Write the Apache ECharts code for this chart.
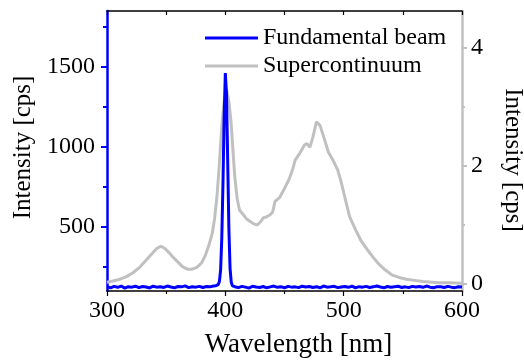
<!DOCTYPE html>
<html><head><meta charset="utf-8">
<script src="https://cdn.jsdelivr.net/npm/echarts@6/dist/echarts.min.js"></script>
<style>html,body{margin:0;padding:0;background:#fff}#c{width:524px;height:361px}</style>
</head><body><div id="c"></div>
<script>
const FONT = 'Liberation Serif';
const seriesNames = ['Fundamental beam', 'Supercontinuum'];
const xTicks = [300, 400, 500, 600];
const leftTicks = [500, 1000, 1500];
const leftMinor = [250, 750, 1250, 1750];
const rightTicks = [0, 2, 4];
const rightMinor = [1, 3];

// Supercontinuum (right axis)
const scX = [300,305,311,316,322,328,333,338,342,345.5,349,352,356,360,364,368,372,376,380,383,386,389,391,393,395,397,399,401,403,405,406.5,408,410,412,415,418,421,424,427,430,432,435,437.7,440,442,446,450,454,457,459,463,467,469,471.5,474,477,480,484,487,491,495,498,501,505,510,515,520,525,530,535,541,547,553,560,567,575,581,590,600];
const scY = [0.03,0.05,0.08,0.12,0.19,0.29,0.40,0.51,0.60,0.64,0.60,0.54,0.45,0.37,0.29,0.25,0.25,0.28,0.36,0.48,0.65,0.86,1.12,1.50,2.05,2.66,3.10,3.30,3.10,2.70,2.25,1.81,1.45,1.25,1.18,1.10,1.06,1.02,1.00,1.06,1.12,1.14,1.17,1.22,1.40,1.47,1.62,1.78,1.95,2.10,2.22,2.36,2.38,2.32,2.49,2.75,2.69,2.44,2.24,2.10,1.93,1.72,1.47,1.14,0.92,0.72,0.58,0.45,0.33,0.24,0.15,0.11,0.08,0.06,0.04,0.03,0.02,0.02,0.01];

// Fundamental beam (left axis)
const fbX = [300,303,306,309,312,315,318,321,324,327,330,333,336,339,342,345,348,351,354,357,360,363,366,369,372,375,378,381,384,387,390,392,
  394,395,396,397,398,399,400,401,402,403,404,405,406,
  408,411,414,417,420,423,426,429,432,435,438,441,444,447,450,453,456,459,462,465,468,471,474,477,480,483,486,489,492,495,498,501,504,507,510,513,516,519,522,525,528,531,534,537,540,543,546,549,552,555,558,561,564,567,570,573,576,579,582,585,588,591,594,597,600];
const fbY = [126,120,129,123,131,118,127,124,130,121,128,125,119,130,124,127,122,131,125,120,128,126,132,121,127,124,129,122,128,126,131,133,
  140,160,230,430,770,1190,1462,1330,910,490,240,155,132,
  127,121,129,124,118,130,125,122,128,120,126,131,123,127,119,129,124,126,121,130,125,128,122,127,120,131,124,126,129,121,125,128,123,130,119,127,124,129,122,126,131,125,120,128,124,127,130,122,126,121,129,125,128,123,131,124,120,127,126,122,129,124,121,127,125];

const BLUE = '#0000ff', GRAY = '#c0c0c0';
const txt = {fontFamily: FONT, fontSize: 24, color: '#000'};
const plain = v => String(v);

const chart = echarts.init(document.getElementById('c'), null, {renderer: 'canvas'});
chart.setOption({
  animation: false,
  backgroundColor: '#fff',
  grid: {left: 107, right: 62, top: 11, bottom: 70, containLabel: false, outerBoundsMode: 'none'},
  legend: {
    orient: 'vertical', left: 200, top: 21, icon: 'rect', itemWidth: 53, itemHeight: 3, itemGap: 4,
    textStyle: Object.assign({lineHeight: 24}, txt), data: seriesNames
  },
  xAxis: [
    {type: 'value', position: 'bottom', min: 300, max: 600, interval: 100,
     axisLine: {show: true, onZero: false, lineStyle: {color: '#000', width: 1.5}},
     axisTick: {show: true, inside: false, length: 5, lineStyle: {color: '#000', width: 1.2}},
     minorTick: {show: true, splitNumber: 2, length: 3, lineStyle: {color: '#000', width: 1.2}},
     axisLabel: Object.assign({margin: 8, formatter: plain}, txt),
     splitLine: {show: false},
     name: 'Wavelength [nm]', nameLocation: 'middle', nameGap: 40,
     nameTextStyle: {fontFamily: FONT, fontSize: 27, color: '#000', padding: [0, 0, 0, 28]}},
    {type: 'value', position: 'top', min: 300, max: 600, interval: 50,
     axisLine: {show: true, onZero: false, lineStyle: {color: '#000', width: 1.5}},
     axisTick: {show: true, inside: true, length: 4, lineStyle: {color: '#000', width: 1.2}},
     axisLabel: {show: false}, splitLine: {show: false}}
  ],
  yAxis: [
    {type: 'value', position: 'left', min: 100, max: 1850,
     axisLine: {show: true, onZero: false, lineStyle: {color: BLUE, width: 2.5}},
     axisTick: {show: true, customValues: leftTicks, length: 6, lineStyle: {color: BLUE, width: 2}},
     axisLabel: Object.assign({customValues: leftTicks, margin: 12, formatter: plain}, txt),
     splitLine: {show: false},
     name: 'Intensity [cps]', nameLocation: 'middle', nameGap: 62,
     nameTextStyle: {fontFamily: FONT, fontSize: 25, color: '#000', padding: [0, 0, 0, 7]}},
    {type: 'value', position: 'left', min: 100, max: 1850,
     axisLine: {show: false},
     axisTick: {show: true, customValues: leftMinor, length: 4, lineStyle: {color: BLUE, width: 2}},
     axisLabel: {show: false}, splitLine: {show: false}},
    {type: 'value', position: 'right', min: -0.12, max: 4.63,
     axisLine: {show: true, onZero: false, lineStyle: {color: GRAY, width: 2.5}},
     axisTick: {show: true, customValues: rightTicks, length: 5, lineStyle: {color: GRAY, width: 2}},
     axisLabel: Object.assign({customValues: rightTicks, margin: 9, formatter: plain}, txt),
     splitLine: {show: false},
     name: 'Intensity [cps]', nameLocation: 'middle', nameGap: 38, nameRotate: -90,
     nameTextStyle: {fontFamily: FONT, fontSize: 25, color: '#000', padding: [0, 0, 0, 18]}},
    {type: 'value', position: 'right', min: -0.12, max: 4.63,
     axisLine: {show: false},
     axisTick: {show: true, customValues: rightMinor, length: 3, lineStyle: {color: GRAY, width: 2}},
     axisLabel: {show: false}, splitLine: {show: false}}
  ],
  series: [
    {type: 'line', name: 'Supercontinuum', xAxisIndex: 0, yAxisIndex: 2, symbol: 'none', showSymbol: false,
     data: scX.map((x, i) => [x, scY[i]]), lineStyle: {color: GRAY, width: 3}, itemStyle: {color: GRAY}, z: 2},
    {type: 'line', name: 'Fundamental beam', xAxisIndex: 0, yAxisIndex: 0, symbol: 'none', showSymbol: false,
     data: fbX.map((x, i) => [x, fbY[i]]), lineStyle: {color: BLUE, width: 3}, itemStyle: {color: BLUE}, z: 3}
  ]
});
</script></body></html>
